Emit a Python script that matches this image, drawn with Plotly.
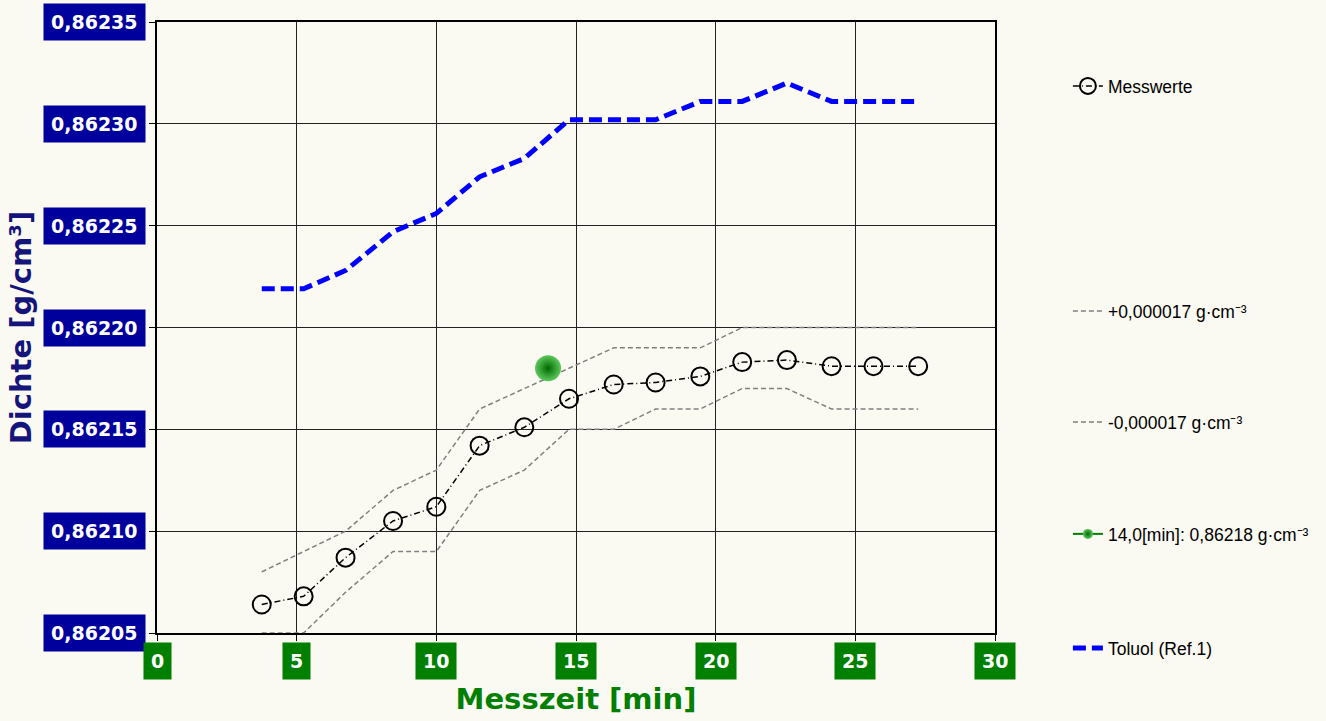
import plotly.graph_objects as go

# Messzeit [min]
zeit = [3.75, 5.25, 6.75, 8.45, 10.0, 11.55, 13.15, 14.75,
        16.35, 17.85, 19.45, 20.95, 22.55, 24.15, 25.65, 27.25]

# Dichte [g/cm3]
messwerte = [0.862064, 0.862068, 0.862087, 0.862105, 0.862112, 0.862142, 0.862151, 0.862165,
             0.862172, 0.862173, 0.862176, 0.862183, 0.862184, 0.862181, 0.862181, 0.862181]
obere_grenze = [0.86208, 0.86209, 0.86210, 0.86212, 0.86213, 0.86216, 0.86217, 0.86218,
                0.86219, 0.86219, 0.86219, 0.86220, 0.86220, 0.86220, 0.86220, 0.86220]
untere_grenze = [0.86205, 0.86205, 0.86207, 0.86209, 0.86209, 0.86212, 0.86213, 0.86215,
                 0.86215, 0.86216, 0.86216, 0.86217, 0.86217, 0.86216, 0.86216, 0.86216]
toluol = [0.862219, 0.862219, 0.862228, 0.862247, 0.862256, 0.862274, 0.862283, 0.862302,
          0.862302, 0.862302, 0.862311, 0.862311, 0.862320, 0.862311, 0.862311, 0.862311]

punkt_zeit = [14.0]
punkt_dichte = [0.86218]

x_ticks = [0, 5, 10, 15, 20, 25, 30]
y_ticks = [0.86205, 0.86210, 0.86215, 0.86220, 0.86225, 0.86230, 0.86235]

BG = "#FAF9F2"
BLAU = "#00009C"
GRUEN = "#007F00"

fig = go.Figure()

fig.add_trace(go.Scatter(
    x=zeit, y=messwerte, mode="lines+markers", name="Messwerte",
    line=dict(color="black", width=1.5, dash="6px,3px,1px,3px"),
    marker=dict(symbol="circle-open", size=18, color="black", line=dict(width=2)),
    legend="legend",
))
fig.add_trace(go.Scatter(
    x=zeit, y=obere_grenze, mode="lines", name="+0,000017 g·cm⁻³",
    line=dict(color="#808080", width=1.5, dash="5px,3px"),
    legend="legend2",
))
fig.add_trace(go.Scatter(
    x=zeit, y=untere_grenze, mode="lines", name="-0,000017 g·cm⁻³",
    line=dict(color="#808080", width=1.5, dash="5px,3px"),
    legend="legend3",
))
fig.add_trace(go.Scatter(
    x=zeit, y=toluol, mode="lines", name="Toluol (Ref.1)",
    line=dict(color="#0000FF", width=5, dash="13px,6px"),
    legend="legend5",
))
fig.add_trace(go.Scatter(
    x=punkt_zeit, y=punkt_dichte, mode="markers",
    name="14,0[min]: 0,86218 g·cm⁻³", showlegend=False,
    marker=dict(size=26, color="#5CC85C",
                gradient=dict(type="radial", color="#006A00"),
                line=dict(width=0)),
))
# legend entry with line for the green point
fig.add_trace(go.Scatter(
    x=[None], y=[None], mode="lines+markers",
    name="14,0[min]: 0,86218 g·cm⁻³",
    line=dict(color=GRUEN, width=2),
    marker=dict(size=10, color="#5CC85C",
                gradient=dict(type="radial", color="#006A00")),
    legend="legend4",
))

# tick labels as boxes
for v in y_ticks:
    fig.add_annotation(
        x=0, xref="paper", xanchor="right", xshift=-11,
        y=v, yref="y", yanchor="middle",
        text=f"{v:.5f}".replace(".", ","), showarrow=False,
        font=dict(family="DejaVu Sans", size=19, color="white", weight="bold"),
        bgcolor=BLAU, borderpad=7,
    )
for v in x_ticks:
    fig.add_annotation(
        x=v, xref="x", xanchor="center",
        y=0, yref="paper", yanchor="top", yshift=-9,
        text=str(v), showarrow=False,
        font=dict(family="DejaVu Sans", size=19, color="white", weight="bold"),
        bgcolor=GRUEN, borderpad=7,
    )

leg = dict(font=dict(family="Liberation Sans", size=17.5, color="black"),
           bgcolor="rgba(0,0,0,0)", xanchor="left", yanchor="middle",
           x=1.087, itemwidth=30)
H = 633 - 22
fig.update_layout(
    width=1326, height=721,
    paper_bgcolor=BG, plot_bgcolor=BG,
    margin=dict(l=157, r=331, t=22, b=88),
    showlegend=True,
    legend={**leg, "y": (633 - 86) / H},
    legend2={**leg, "y": (633 - 311) / H},
    legend3={**leg, "y": (633 - 422) / H},
    legend4={**leg, "y": (633 - 534) / H},
    legend5={**leg, "y": (633 - 648) / H},
    xaxis=dict(
        range=[0, 30], tickvals=x_ticks, showticklabels=False,
        ticks="outside", ticklen=6, tickcolor="black",
        showgrid=True, gridcolor="#222222", gridwidth=1,
        showline=True, linecolor="black", linewidth=2, mirror=True,
        zeroline=False,
        title=dict(text="Messzeit [min]", standoff=49,
                   font=dict(family="DejaVu Sans", size=29, color=GRUEN, weight="bold")),
    ),
    yaxis=dict(
        range=[0.86205, 0.86235], tickvals=y_ticks, showticklabels=False,
        ticks="outside", ticklen=6, tickcolor="black",
        showgrid=True, gridcolor="#222222", gridwidth=1,
        showline=True, linecolor="black", linewidth=2, mirror=True,
        zeroline=False,
        title=dict(text="Dichte [g/cm³]", standoff=109,
                   font=dict(family="DejaVu Sans", size=29, color="#14147A", weight="bold")),
    ),
)

fig.write_html("out.html", config={"displayModeBar": False},
               post_script="document.body.style.margin='0';")
